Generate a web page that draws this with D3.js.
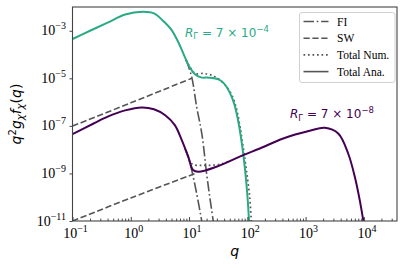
<!DOCTYPE html>
<html>
<head>
  <style>
    body {
      margin: 0;
      background: #fff;
    }
    .tick-label {
      font-family: "Liberation Serif", serif;
      font-size: 14px;
      fill: #000;
    }
    .legend-label {
      font-family: "Liberation Serif", serif;
      font-size: 11.5px;
      fill: #000;
    }
    .axis-title {
      font-family: "DejaVu Sans", sans-serif;
      font-size: 14px;
      fill: #000;
    }
    .annot {
      font-family: "DejaVu Sans", sans-serif;
      font-size: 12px;
    }
  </style>
  <script src="https://cdnjs.cloudflare.com/ajax/libs/d3/7.8.5/d3.min.js"></script>
</head>
<body>
<div class="chart"></div>
<script>

// values, [q, q^2 g f(q)]
// R_Gamma = 7e-4 (green)
const greenTotalAna = [[0.1,4.5e-4],[0.2,1.0e-3],[0.4,2.2e-3],[0.8,4.8e-3],[1.6,6.3e-3],[2.5,5.4e-3],[3.5,2.8e-3],
  [5,1.1e-3],[6.3,4.0e-4],[8,1.1e-4],[10,3.2e-5],[12.6,1.5e-5],[16,1.1e-5],[22,1.07e-5],[32,9.1e-6],[40,6.0e-6],
  [50,2.5e-6],[60,8e-7],[69,1.8e-7],[79,2.5e-8],[91,1.6e-9],[100,1.3e-10],[107,1e-11]];
const greenTotalNum = [[8.9,6.0e-5],[10.5,2.8e-5],[12.6,1.6e-5],[17.8,1.6e-5],[26.3,1.26e-5],[39,6.2e-6],[54,2.0e-6],
  [66,4.6e-7],[75,9.1e-8],[85,1.26e-8],[98,1e-9],[110,1e-10],[117,1e-11]];
const greenFI = [[8.9,6.0e-5],[11.1,1.15e-5],[13.5,6.3e-7],[16.6,4.5e-8],[20,1e-9],[23,8e-11],[26,1e-11]];
const greenSW = [[0.1,9.8e-8],[1,9.3e-7],[11.1,1.0e-5]];

// R_Gamma = 7e-8 (purple)
const purpleTotalAna = [[0.1,4.5e-8],[0.23,1.26e-7],[0.41,2.5e-7],[0.8,4.5e-7],[1.54,6.0e-7],[2.5,5.0e-7],[3.9,2.8e-7],
  [5.7,1.07e-7],[7.5,2.5e-8],[9.7,5.0e-9],[11.7,1.4e-9],[14.4,1.17e-9],[29.5,1.9e-9],[85,5.9e-9],[164,1.12e-8],
  [413,2.95e-8],[1175,6.2e-8],[2140,8.3e-8],[3630,4.8e-8],[5370,6.9e-9],[7000,7.1e-10],[8500,7.4e-11],[9800,1e-11]];
const purpleTotalNum = [[8.9,8.9e-9],[10.4,3.1e-9],[12,2.3e-9],[15.8,2.2e-9],[24.5,2.2e-9],[35.5,2.5e-9],[50,3.4e-9]];
const purpleFI = [[8.5,1.1e-8],[9.8,4.7e-9],[11.1,1.4e-9],[13.5,1.45e-10],[16.5,1e-11]];
const purpleSW = [[0.1,1e-11],[1,9.3e-11],[13.5,1.05e-9]];

const xMajor = [1e-1, 1e0, 1e1, 1e2, 1e3, 1e4];
const yMajor = [1e-11, 1e-9, 1e-7, 1e-5, 1e-3];
const legendLabels = ['FI', 'SW', 'Total Num.', 'Total Ana.'];

const width = 409;
const height = 268;
const plot = {left: 72.5, right: 397, top: 7, bottom: 221};

const green = '#2aaa84';
const purple = '#440154';
const grey = '#555';

const dashStyles = {
  'FI': '10.5,2.7,1.7,2.7',
  'SW': '6.2,2.7',
  'Total Num.': '1.7,2.8',
  'Total Ana.': null
};

const svg = d3.select('.chart')
  .append('svg')
  .attr('width', width)
  .attr('height', height);

const x = d3.scaleLog().domain([0.1, 3.7e4]).range([plot.left, plot.right]);
const y = d3.scaleLog().domain([1e-11, 1e-2]).range([plot.bottom, plot.top]);

svg.append('defs').append('clipPath')
  .attr('id', 'plot-clip')
  .append('rect')
  .attr('x', plot.left)
  .attr('y', plot.top)
  .attr('width', plot.right - plot.left)
  .attr('height', plot.bottom - plot.top);

const line = d3.line()
  .x(d => x(d[0]))
  .y(d => y(d[1]))
  .curve(d3.curveCatmullRom.alpha(0.5));

const lines = svg.append('g').attr('clip-path', 'url(#plot-clip)');

function drawCurve(data, colour, kind, lw){
  lines.append('path')
    .attr('d', line(data))
    .attr('fill', 'none')
    .attr('stroke', colour)
    .attr('stroke-width', lw)
    .attr('stroke-dasharray', dashStyles[kind]);
}

// same draw order as the original: FI, SW, numerical, analytic
drawCurve(greenFI, grey, 'FI', 1.6);
drawCurve(greenSW, grey, 'SW', 1.6);
drawCurve(greenTotalNum, grey, 'Total Num.', 1.7);
drawCurve(greenTotalAna, green, 'Total Ana.', 2);
drawCurve(purpleFI, grey, 'FI', 1.6);
drawCurve(purpleSW, grey, 'SW', 1.6);
drawCurve(purpleTotalNum, grey, 'Total Num.', 1.7);
drawCurve(purpleTotalAna, purple, 'Total Ana.', 2);

// minor ticks on x, every 2..9 x 10^k inside the domain
const xMinor = [];
d3.range(-1, 5).forEach(k => {
  d3.range(2, 10).forEach(m => {
    const v = m * Math.pow(10, k);
    if (v < x.domain()[1]) xMinor.push(v);
  });
});

svg.append('g')
  .attr('transform', `translate(0,${plot.bottom})`)
  .call(d3.axisBottom(x).tickValues(xMajor).tickSizeInner(-4).tickSizeOuter(0).tickFormat(''));
svg.append('g')
  .attr('transform', `translate(0,${plot.bottom})`)
  .call(d3.axisBottom(x).tickValues(xMinor).tickSizeInner(-2.4).tickSizeOuter(0).tickFormat(''));

svg.append('g')
  .attr('transform', `translate(${plot.left},0)`)
  .call(d3.axisLeft(y).tickValues(yMajor).tickSizeInner(3).tickSizeOuter(0).tickFormat(''));

svg.selectAll('.tick line').attr('stroke', '#333').attr('stroke-width', 0.9);
svg.selectAll('.domain').remove();

// frame
svg.append('rect')
  .attr('x', plot.left)
  .attr('y', plot.top)
  .attr('width', plot.right - plot.left)
  .attr('height', plot.bottom - plot.top)
  .attr('fill', 'none')
  .attr('stroke', '#444')
  .attr('stroke-width', 1.1);

function powerLabel(sel, exp){
  sel.append('tspan').text('10');
  sel.append('tspan')
    .attr('font-size', '10px')
    .attr('dy', -6)
    .text(exp < 0 ? '\u2212' + (-exp) : exp);
}

xMajor.forEach(v => {
  svg.append('text')
    .attr('class', 'tick-label')
    .attr('x', x(v) + 3)
    .attr('y', 238)
    .attr('text-anchor', 'middle')
    .call(powerLabel, Math.round(Math.log10(v)));
});

yMajor.forEach(v => {
  svg.append('text')
    .attr('class', 'tick-label')
    .attr('x', 66)
    .attr('y', y(v) + 4.5)
    .attr('text-anchor', 'end')
    .call(powerLabel, Math.round(Math.log10(v)));
});

// axis titles
svg.append('text')
  .attr('class', 'axis-title')
  .attr('x', (plot.left + plot.right) / 2)
  .attr('y', 256)
  .attr('text-anchor', 'middle')
  .attr('font-style', 'italic')
  .text('q');

svg.append('text')
  .attr('class', 'axis-title')
  .attr('transform', `translate(21,${(plot.top + plot.bottom) / 2}) rotate(-90)`)
  .attr('text-anchor', 'middle')
  .call(t => {
    t.append('tspan').attr('font-style', 'italic').text('q');
    t.append('tspan').attr('font-size', '10px').attr('dy', -5.5).text('2');
    t.append('tspan').attr('font-style', 'italic').attr('dy', 5.5).text('g');
    t.append('tspan').attr('font-style', 'italic').attr('font-size', '10px').attr('dy', 3).text('\u03c7');
    t.append('tspan').attr('font-style', 'italic').attr('dy', -3).text('f');
    t.append('tspan').attr('font-style', 'italic').attr('font-size', '10px').attr('dy', 3).text('\u03c7');
    t.append('tspan').attr('dy', -3).text('(');
    t.append('tspan').attr('font-style', 'italic').text('q');
    t.append('tspan').text(')');
  });

// R_Gamma annotations
function rLabel(sel, exp){
  sel.append('tspan').attr('font-style', 'italic').text('R');
  sel.append('tspan').attr('font-size', '8.5px').attr('dy', 2.5).text('\u0393');
  sel.append('tspan').attr('dy', -2.5).text(' = 7 \u00d7 10');
  sel.append('tspan').attr('font-size', '8.5px').attr('dy', -5).text('\u2212' + exp);
}

svg.append('text')
  .attr('class', 'annot')
  .attr('x', 185)
  .attr('y', 36.5)
  .attr('fill', green)
  .call(rLabel, 4);

svg.append('text')
  .attr('class', 'annot')
  .attr('x', 290)
  .attr('y', 118)
  .attr('fill', purple)
  .call(rLabel, 8);

// legend
const legend = svg.append('g').attr('class', 'legend');
legend.append('rect')
  .attr('x', 299.5)
  .attr('y', 12.5)
  .attr('width', 95.5)
  .attr('height', 70)
  .attr('rx', 2.5)
  .attr('fill', '#fff')
  .attr('fill-opacity', 0.8)
  .attr('stroke', '#d0d0d0')
  .attr('stroke-width', 1);

legend.selectAll('g.item')
  .data(legendLabels)
  .enter()
  .append('g')
  .attr('class', 'item')
  .attr('transform', (d, i) => `translate(0, ${21.5 + i * 16.7})`)
  .call(item => {
    item.append('line')
      .attr('x1', 303.5)
      .attr('x2', 328.5)
      .attr('stroke', grey)
      .attr('stroke-width', d => d === 'Total Num.' ? 1.7 : 1.6)
      .attr('stroke-dasharray', d => dashStyles[d]);
    item.append('text')
      .attr('class', 'legend-label')
      .attr('x', 337)
      .attr('y', 4)
      .text(d => d);
  });

</script>
</body>
</html>
